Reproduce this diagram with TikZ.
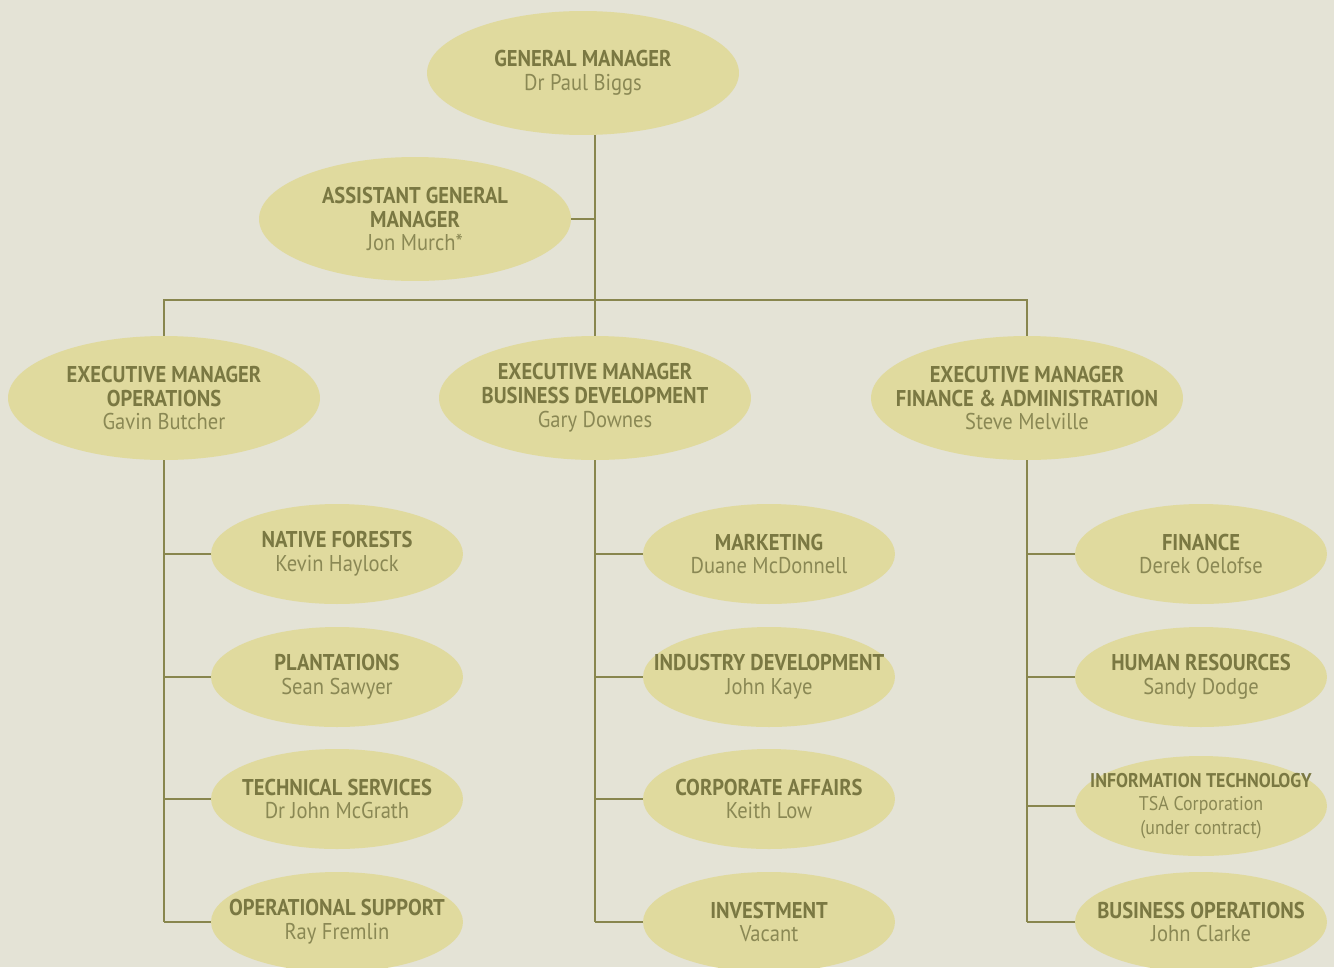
\documentclass[tikz,border=0pt]{standalone}
\usepackage{fontspec}
\setmainfont{PT Sans}[FakeStretch=0.9]
\usetikzlibrary{shapes.geometric, positioning, calc}
\definecolor{ChartBack}{RGB}{228,227,214}
\definecolor{ChartFill}{RGB}{224,218,158}
\definecolor{ChartText}{RGB}{122,120,66}
\definecolor{ChartName}{RGB}{138,136,84}
\definecolor{ChartLine}{RGB}{136,134,78}
\newcommand{\hd}[1]{\textbf{#1}}
\newcommand{\who}[1]{\textcolor{ChartName}{#1}}

\begin{document}
\begin{tikzpicture}[x=0.02cm, y=-0.02cm,
    box/.style={shape=ellipse, fill=ChartFill, inner xsep=-2cm, inner ysep=-1cm, align=center, text=ChartText,
        font=\fontsize{13}{13.6}\selectfont, execute at begin node=\rule{0pt}{13pt}},
    big/.style={box, minimum width=6.24cm, minimum height=2.48cm},
    small/.style={box, minimum width=5.04cm, minimum height=2.0cm},
    link/.style={draw=ChartLine, line width=0.8pt}]
    \fill[ChartBack] (0,0) rectangle (1334,967);
    \useasboundingbox (0,0) rectangle (1334,967);
    \clip (0,0) rectangle (1334,967);

    % top of the chart
    \node[big] (gm)  at (583, 73)  {\hd{GENERAL MANAGER}\\\who{Dr Paul Biggs}};
    \node[big] (agm) at (415,219)  {\hd{ASSISTANT GENERAL}\\\hd{MANAGER}\\\who{Jon Murch*}};
    \node[big] (ops) at (164,398)  {\hd{EXECUTIVE MANAGER}\\\hd{OPERATIONS}\\\who{Gavin Butcher}};
    \node[big] (bd)  at (595,398)  {\hd{EXECUTIVE MANAGER}\\\hd{BUSINESS DEVELOPMENT}\\\who{Gary Downes}};
    \node[big] (fa)  at (1027,398) {\hd{EXECUTIVE MANAGER}\\\hd{FINANCE \& ADMINISTRATION}\\\who{Steve Melville}};

    % sections
    \node[small] (ops1) at (337,554) {\hd{NATIVE FORESTS}\\\who{Kevin Haylock}};
    \node[small] (ops2) at (337,677) {\hd{PLANTATIONS}\\\who{Sean Sawyer}};
    \node[small] (ops3) at (337,799) {\hd{TECHNICAL SERVICES}\\\who{Dr John McGrath}};
    \node[small] (ops4) at (337,922) {\hd{OPERATIONAL SUPPORT}\\\who{Ray Fremlin}};
    \node[small] (bd1)  at (769,554) {\hd{MARKETING}\\\who{Duane McDonnell}};
    \node[small] (bd2)  at (769,677) {\hd{INDUSTRY DEVELOPMENT}\\\who{John Kaye}};
    \node[small] (bd3)  at (769,799) {\hd{CORPORATE AFFAIRS}\\\who{Keith Low}};
    \node[small] (bd4)  at (769,922) {\hd{INVESTMENT}\\\who{Vacant}};
    \node[small] (fa1)  at (1201,554) {\hd{FINANCE}\\\who{Derek Oelofse}};
    \node[small] (fa2)  at (1201,677) {\hd{HUMAN RESOURCES}\\\who{Sandy Dodge}};
    \node[small, font=\fontsize{11.3}{13.6}\selectfont] (fa3) at (1201,806)
        {\hd{INFORMATION TECHNOLOGY}\\\who{TSA Corporation}\\\who{(under contract)}};
    \node[small] (fa4)  at (1201,922) {\hd{BUSINESS OPERATIONS}\\\who{John Clarke}};

    % connectors
    \coordinate (bar) at (594,300);
    \draw[link] (bd.north |- gm.south) -- (bd.north);
    \draw[link] (agm.east) -- (agm.east -| bd.north);
    \draw[link] (ops.north) -- (ops.north |- bar) -- (fa.north |- bar) -- (fa.north);
    \foreach \e in {ops, bd, fa} {
        \draw[link] (\e.south) -- (\e.south |- \e4.west);
        \foreach \i in {1,...,4}
            \draw[link] (\e.south |- \e\i.west) -- (\e\i.west);
    }
\end{tikzpicture}
\end{document}
